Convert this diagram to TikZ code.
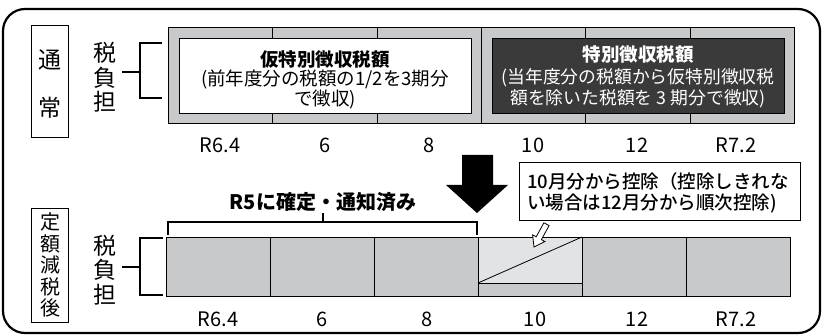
\documentclass[tikz,border=0pt]{standalone}
\usepackage{fontspec}
\setmainfont{Noto Sans CJK JP}
\newfontfamily\medfont{Noto Sans CJK JP Medium}
\usetikzlibrary{positioning}
\definecolor{barGray}{RGB}{200,201,202}
\definecolor{darkBox}{RGB}{58,58,58}
\definecolor{lightCell}{RGB}{226,227,228}
\tikzset{
  monthlab/.style={font=\fontsize{20}{20}\selectfont, inner sep=0pt},
  charlab/.style={font=\fontsize{23}{24.5}\selectfont, align=center, inner sep=0pt},
  bracket/.style={line width=2.6pt},
  thin line/.style={line width=0.8pt},
}
\begin{document}
\begin{tikzpicture}[x=1pt,y=-1pt]
 \useasboundingbox (0,0) rectangle (824,336);
 \draw[line width=2.2pt,rounded corners=22pt](3,9) rectangle (820,333);
 % upper row
 \draw[thin line](31,25) rectangle (68,137);
 \node[charlab] (tsu) at (50,60) {通};
 \node[charlab] (jo) at (50,108) {常};
 \node[charlab] (futan1) at (105,77.5) {税\\負\\担};
 \draw[bracket](122,72)--(140,72);
 \draw[bracket](162,43)--(140,43)--(140,98)--(162,98);
 \draw[thin line,fill=barGray](168,27) rectangle (794,123);
 \foreach \x in {272,377,481,585,690}
   \draw[thin line](\x,27)--(\x,123);
 \draw[thin line,fill=white](179,38) rectangle (471,113);
 \draw[thin line,fill=darkBox](492,38) rectangle (784,113);
 \node[font=\fontsize{18.5}{18.5}\selectfont,align=center,inner sep=0pt] (karitoku) at (325,80)
   {\textbf{仮特別徴収税額}\\(前年度分の税額の1/2を3期分\\で徴収)};
 \node[font=\fontsize{17.8}{21.5}\selectfont,align=center,inner sep=0pt,text=white] (toku) at (638,77)
   {\textbf{\fontsize{18.5}{21.5}\selectfont 特別徴収税額}\\(当年度分の税額から仮特別徴収税\\額を除いた税額を 3 期分で徴収)};
 \foreach \x/\t in {220/R6.4,325/6,429/8,533/10,637/12,736/R7.2}
   \node[monthlab] at (\x,145) {\t};
 % arrow between rows
 \fill(462,155)--(493,155)--(493,185)--(508,185)--(477,213)--(446,185)--(462,185)--cycle;
 % lower row
 \draw[thin line](31,208) rectangle (68,322);
 \node[font=\fontsize{20}{21.5}\selectfont,align=center,inner sep=0pt] (teigaku) at (50,265)
   {定\\額\\減\\税\\後};
 \node[charlab] (futan2) at (105,270) {税\\負\\担};
 \draw[bracket](122,267)--(140,267);
 \draw[bracket](163,238)--(140,238)--(140,295)--(163,295);
 \draw[bracket](168,235)--(168,222)--(477,222)--(477,235);
 \draw[bracket](323,222)--(323,213);
 \node[font=\bfseries\fontsize{20}{20}\selectfont,inner sep=0pt] (kakutei) at (323,202) {R5に確定・通知済み};
 \foreach \i in {0,...,5}
   \draw[thin line,fill=barGray](166+104*\i,237) rectangle (270+104*\i,296);
 \draw[thin line,fill=lightCell](478,237) rectangle (582,283);
 \draw[thin line](478,283)--(582,237);
 \foreach \x/\t in {218/R6.4,322/6,427/8,535/10,637/12,736/R7.2}
   \node[monthlab] at (\x,319) {\t};
 % callout
 \draw[thin line,fill=white](519,162) rectangle (800,220);
 \node[font=\medfont\fontsize{18.5}{21}\selectfont,align=left,inner sep=0pt,anchor=west] (kojo) at (527,192.5)
   {10月分から控除（控除しきれな\\い場合は12月分から順次控除)};
 \draw[thin line,fill=white](534,247)--(544.9,241.6)--(541.4,239.6)--(549.1,225.6)--(543.9,222.8)--(536.2,236.8)--(532.6,234.9)--cycle;
\end{tikzpicture}
\end{document}
